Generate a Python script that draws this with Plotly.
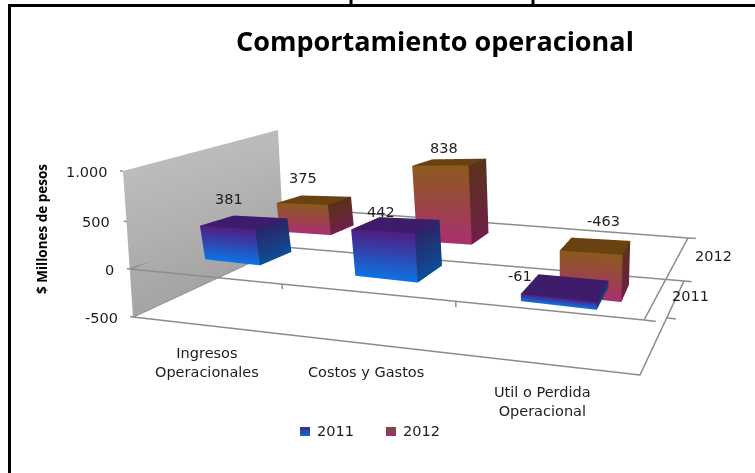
import numpy as np
import plotly.graph_objects as go

categories = ["Ingresos<br>Operacionales", "Costos y Gastos", "Util o Perdida<br>Operacional"]
series = ["2011", "2012"]
values_2011 = [381, 442, -61]
values_2012 = [375, 838, -463]
z_ticks = [-500, 0, 500, 1000]
z_tick_labels = ["-500", "0", "500", "1.000"]

W, H = 755, 473
Z_MIN, Z_MAX = -500, 1000
NC, NS = len(categories), len(series)
FOC = (H / 2) / np.tan(np.pi / 8)

# camera fitted to the reference
EYE = (0.6085, -1.0579, 0.2752)
CENTER = (0.4719, -0.8349, 0.2104)
UP_X = 0.0904
ASPECT = (1.0789, 0.5313, 0.3039)
PAD = 0.5          # axis ranges are padded so edge lines are not clipped
Z_PAD = 300

# placement of the bars on the category / series axes
CAT_POS = [0.7101, 1.7752, 2.6281]
ROW_POS = [0.4053, 1.3786]
BAR_W = [0.45, 0.3637, 0.32]
BAR_D = 0.3912
TICK_T = [0.42, 0.749]   # category ticks, as fractions of the front edge

# pixel location of the chart box corners: (x side, y side, z) -> (px, py)
FRAME_PX = {
    ("L", "F", Z_MIN): (133, 317), ("R", "F", Z_MIN): (640, 375),
    ("L", "B", Z_MIN): (284, 247), ("R", "B", Z_MIN): (684, 281),
    ("L", "F", 0): (130, 269), ("R", "F", 0): (644, 320),
    ("L", "B", 0): (281, 207), ("R", "B", 0): (688, 238),
    ("L", "F", Z_MAX): (123, 171), ("L", "B", Z_MAX): (278, 130),
}

STYLE = {
    "2011": {"front": ("rgb(80,30,130)", "rgb(12,116,228)"),
             "side": ("rgb(44,36,104)", "rgb(12,78,150)"),
             "top": "rgb(62,28,108)"},
    "2012": {"front": ("rgb(140,90,30)", "rgb(170,48,112)"),
             "side": ("rgb(90,50,26)", "rgb(112,32,72)"),
             "top": "rgb(106,66,18)"},
}
LINE = "rgb(140,140,140)"
TXT = "rgb(30,30,30)"
FONT = "DejaVu Sans"
FLAT = dict(ambient=1, diffuse=0, specular=0, roughness=1, fresnel=0)


def project(xyz):
    e = np.array(EYE); c = np.array(CENTER); up = np.array([UP_X, 0, 1.0])
    fw = c - e; fw /= np.linalg.norm(fw)
    r = np.cross(fw, up); r /= np.linalg.norm(r)
    u = np.cross(r, fw)
    m = np.array([(xyz[0] / NC - .5) * ASPECT[0], (xyz[1] / NS - .5) * ASPECT[1],
                  ((xyz[2] - Z_MIN) / (Z_MAX - Z_MIN) - .5) * ASPECT[2]]) - e
    zc = m @ fw
    return np.array([W / 2 + FOC * (m @ r) / zc, H / 2 - FOC * (m @ u) / zc])


def unproject(target, y, x0, z0):
    """x and z on the plane y=const that land on the given pixel."""
    q = np.array([x0, z0], float)
    t = np.array(target, float)
    for _ in range(12):
        f0 = project((q[0], y, q[1])) - t
        J = np.column_stack([(project((q[0] + 1e-3, y, q[1])) - project((q[0], y, q[1]))) / 1e-3,
                             (project((q[0], y, q[1] + 1.0)) - project((q[0], y, q[1])))])
        q = q - np.linalg.solve(J, f0)
    return (float(q[0]), y, float(q[1]))


corner = {k: unproject(v, 0 if k[1] == "F" else NS, 0 if k[0] == "L" else NC, k[2])
          for k, v in FRAME_PX.items()}


def lerp(a, b, t):
    return tuple(a[i] + (b[i] - a[i]) * t for i in range(3))


def bar_mesh(vals, row, st, name):
    xs, ys, zs, ii, jj, kk, cols = [], [], [], [], [], [], []

    def quad(pts, c):
        n = len(xs)
        for (x, y, z), col in zip(pts, c):
            xs.append(x); ys.append(y); zs.append(z); cols.append(col)
        ii.extend([n, n]); jj.extend([n + 1, n + 2]); kk.extend([n + 2, n + 3])

    for c, v in enumerate(vals):
        x0, x1 = CAT_POS[c] - BAR_W[c] / 2, CAT_POS[c] + BAR_W[c] / 2
        y0, y1 = ROW_POS[row] - BAR_D / 2, ROW_POS[row] + BAR_D / 2
        hi, lo = max(v, 0), min(v, 0)
        ft, fb = st["front"]
        st_t, st_b = st["side"]
        quad([(x0, y0, hi), (x1, y0, hi), (x1, y0, lo), (x0, y0, lo)], [ft, ft, fb, fb])
        quad([(x1, y0, hi), (x1, y1, hi), (x1, y1, lo), (x1, y0, lo)], [st_t, st_t, st_b, st_b])
        quad([(x0, y0, hi), (x1, y0, hi), (x1, y1, hi), (x0, y1, hi)], [st["top"]] * 4)
    return go.Mesh3d(x=xs, y=ys, z=zs, i=ii, j=jj, k=kk, vertexcolor=cols, name=name,
                     flatshading=True, hoverinfo="skip", showscale=False, lighting=FLAT)


def path3d(pts):
    xs, ys, zs = [], [], []
    for seg in pts:
        for p in seg:
            xs.append(p[0]); ys.append(p[1]); zs.append(p[2])
        xs.append(None); ys.append(None); zs.append(None)
    return go.Scatter3d(x=xs, y=ys, z=zs, mode="lines", line=dict(color=LINE, width=3),
                        hoverinfo="skip", showlegend=False)


LFT, LFB = corner[("L", "F", Z_MAX)], corner[("L", "F", Z_MIN)]
LBT, LBB = corner[("L", "B", Z_MAX)], corner[("L", "B", Z_MIN)]
wall = go.Mesh3d(x=[LFT[0], LBT[0], LBB[0], LFB[0]], y=[LFT[1], LBT[1], LBB[1], LFB[1]],
                 z=[LFT[2], LBT[2], LBB[2], LFB[2]], i=[0, 0], j=[1, 2], k=[2, 3],
                 vertexcolor=["rgb(188,188,188)"] * 2 + ["rgb(164,164,164)"] * 2,
                 flatshading=True, hoverinfo="skip", lighting=FLAT)

segs = []
for z in (Z_MIN, 0):
    segs.append([corner[("L", "F", z)], corner[("R", "F", z)], corner[("R", "B", z)],
                 corner[("L", "B", z)], corner[("L", "F", z)]])
# category ticks on the front zero line
A, Bz = corner[("L", "F", 0)], corner[("R", "F", 0)]
for t in TICK_T:
    p = lerp(A, Bz, t)
    segs.append([p, (p[0], p[1], p[2] - 50)])
# value ticks on the left front edge
for z in z_ticks:
    hi, lo, t = (LFT, A, (1000 - z) / 1000) if z >= 0 else (A, LFB, -z / 500)
    p = lerp(hi, lo, t)
    segs.append([p, (p[0] - .03, p[1], p[2])])
# series ticks on the right edge
for p in (corner[("R", "F", 0)], corner[("R", "B", 0)], corner[("R", "B", Z_MIN)],
          lerp(corner[("R", "F", Z_MIN)], corner[("R", "B", Z_MIN)], .5)):
    segs.append([p, (p[0] + .04, p[1], p[2])])

fig = go.Figure([wall,
                 bar_mesh(values_2011, 0, STYLE["2011"], "2011"),
                 bar_mesh(values_2012, 1, STYLE["2012"], "2012"),
                 path3d(segs)])

f13 = dict(family=FONT, size=14.5, color=TXT)


def lab(anchor, text, target):
    q = project(anchor)
    return dict(x=anchor[0], y=anchor[1], z=anchor[2], text=text, showarrow=False, font=f13,
                xanchor="center", yanchor="middle",
                xshift=round(target[0] - q[0]), yshift=round(q[1] - target[1]))


tick_px = [(101.5, 318), (109, 270), (96.5, 222), (87, 172)]
cat_px = [(207, 362.5), (366, 372), (543, 401)]
ser_px = [(690, 296), (713, 256)]
val_px = [[(229, 199), (381, 212), (520, 276)], [(303, 178), (444, 148), (603, 221)]]
ann = []
for z, t, q in zip(z_ticks, z_tick_labels, tick_px):
    ann.append(lab((0, 0, z), t, q))
for c, t in enumerate(categories):
    ann.append(lab((CAT_POS[c], 0, Z_MIN), t, cat_px[c]))
for r, t in enumerate(series):
    ann.append(lab((NC, ROW_POS[r], Z_MIN), t, ser_px[r]))
for r, vals in enumerate([values_2011, values_2012]):
    for c, v in enumerate(vals):
        ann.append(lab((CAT_POS[c], ROW_POS[r], max(v, 0)), str(v), val_px[r][c]))

blue_stack = ["rgb(60,50,150)", "rgb(40,75,175)", "rgb(25,95,205)"]
red_stack = ["rgb(125,75,55)", "rgb(140,60,85)", "rgb(155,50,105)"]


def px(x):
    return x / W


def py(y):
    return 1 - y / H


def black(x0, y0, x1, y1):
    return dict(type="line", xref="paper", yref="paper", x0=x0, x1=x1, y0=y0, y1=y1,
                line=dict(color="black", width=3))


shapes = [black(px(9.5), 0, px(9.5), py(5)), black(px(8), py(5.5), 1, py(5.5)),
          black(px(351), py(0), px(351), py(4)), black(px(533), py(0), px(533), py(4))]
for left, stack in ((300, blue_stack), (386, red_stack)):
    for n, col in enumerate(stack):
        shapes.append(dict(type="rect", xref="paper", yref="paper", line_width=0, fillcolor=col,
                           x0=px(left), x1=px(left + 10),
                           y0=py(427 + n * 3), y1=py(427 + (n + 1) * 3)))


def pa(x, y, t, xanchor="center", **k):
    return dict(xref="paper", yref="paper", x=px(x), y=py(y), text=t, showarrow=False,
                xanchor=xanchor, yanchor="middle", **k)


paper_ann = [
    pa(435, 41, "<b>Comportamiento operacional</b>", font=dict(family="Open Sans", size=27, color="black")),
    pa(42, 229, "<b>$ Millones de pesos</b>", textangle=-90, font=dict(family="Open Sans", size=13.5, color="black")),
    pa(315, 431, series[0], xanchor="left", font=f13),
    pa(401, 431, series[1], xanchor="left", font=f13),
]
hidden = dict(visible=False, showgrid=False, zeroline=False, showbackground=False, showspikes=False)
x_rng = [-PAD, NC + PAD]
y_rng = [-PAD, NS + PAD]
z_rng = [Z_MIN - Z_PAD, Z_MAX + Z_PAD]
fig.update_layout(
    width=W, height=H, autosize=False, margin=dict(l=0, r=0, t=0, b=0),
    paper_bgcolor="white", showlegend=False, hovermode=False,
    shapes=shapes, annotations=paper_ann,
    scene=dict(
        domain=dict(x=[0, 1], y=[0, 1]),
        xaxis=dict(range=x_rng, **hidden),
        yaxis=dict(range=y_rng, **hidden),
        zaxis=dict(range=z_rng, **hidden),
        aspectmode="manual",
        aspectratio=dict(x=ASPECT[0] * (x_rng[1] - x_rng[0]) / NC,
                         y=ASPECT[1] * (y_rng[1] - y_rng[0]) / NS,
                         z=ASPECT[2] * (z_rng[1] - z_rng[0]) / (Z_MAX - Z_MIN)),
        camera=dict(eye=dict(x=EYE[0], y=EYE[1], z=EYE[2]),
                    center=dict(x=CENTER[0], y=CENTER[1], z=CENTER[2]),
                    up=dict(x=UP_X, y=0, z=1)),
        annotations=ann,
        dragmode=False,
    ),
)
fig.write_html("out.html", config=dict(displayModeBar=False),
               post_script="document.body.style.margin='0';")
